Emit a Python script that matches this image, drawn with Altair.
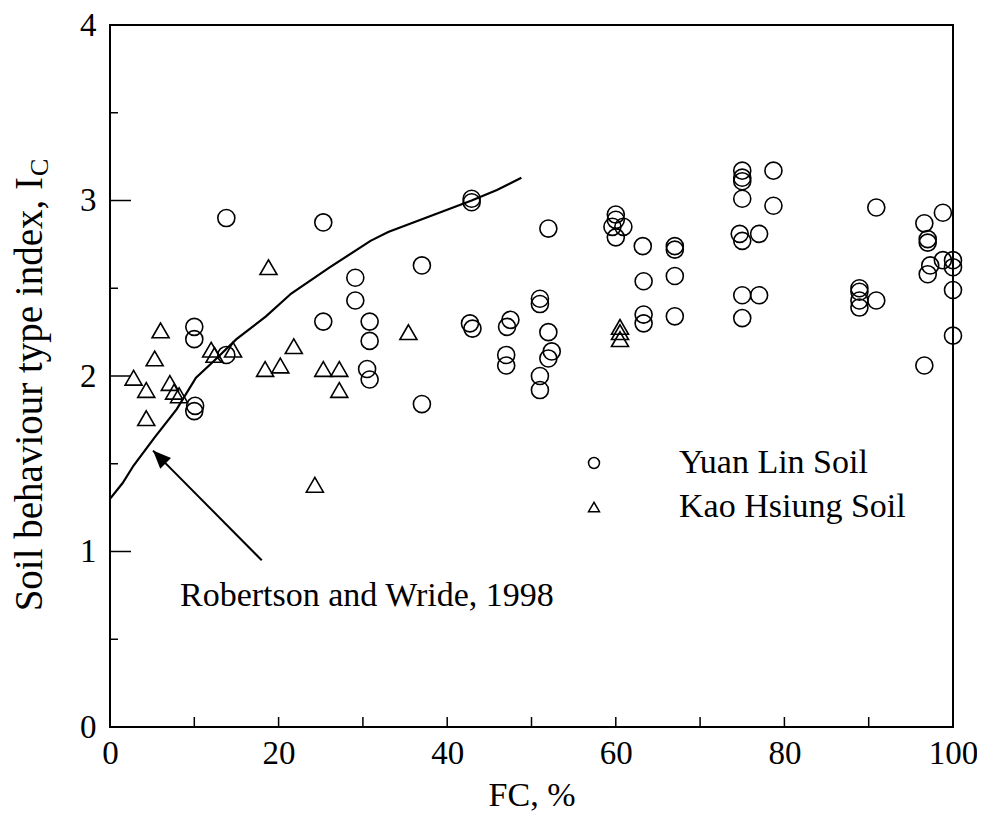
import altair as alt
import pandas as pd

# ---------------- data ----------------
# Yuan Lin Soil (open circles)
yl_fc = [10.0, 10.0, 10.1, 10.0, 13.8, 13.8, 25.3, 25.3, 29.1, 29.1,
         30.8, 30.8, 30.5, 30.8, 37.0, 37.0, 42.9, 42.9, 42.7, 43.0,
         47.1, 47.5, 47.0, 47.0, 51.0, 51.0, 51.0, 51.0, 52.0, 52.0,
         52.4, 52.0, 60.0, 60.0, 59.6, 60.9, 60.0, 63.2, 63.3, 63.3,
         63.3, 67.0, 67.0, 67.0, 67.0, 75.0, 75.0, 75.0, 75.0, 74.7,
         75.0, 75.0, 75.0, 77.0, 77.0, 78.7, 78.7, 88.9, 88.9, 88.9,
         88.9, 90.9, 90.9, 96.6, 96.6, 97.0, 97.0, 97.3, 97.0, 98.8,
         98.8, 100.0, 100.0, 100.0, 100.0]
yl_ic = [2.28, 2.21, 1.83, 1.80, 2.90, 2.12, 2.875, 2.31, 2.56, 2.43,
         2.31, 2.20, 2.04, 1.98, 2.63, 1.84, 3.01, 2.99, 2.30, 2.27,
         2.28, 2.32, 2.12, 2.06, 2.44, 2.41, 2.00, 1.92, 2.84, 2.25,
         2.14, 2.10, 2.92, 2.89, 2.85, 2.85, 2.79, 2.74, 2.54, 2.35,
         2.30, 2.74, 2.72, 2.57, 2.34, 3.17, 3.13, 3.11, 3.01, 2.81,
         2.77, 2.46, 2.33, 2.81, 2.46, 3.17, 2.97, 2.50, 2.48, 2.43,
         2.39, 2.43, 2.96, 2.87, 2.06, 2.78, 2.76, 2.63, 2.58, 2.93,
         2.66, 2.66, 2.62, 2.49, 2.23]

# Kao Hsiung Soil (open triangles)
kh_fc = [2.8, 4.3, 4.3, 5.3, 6.0, 7.1, 7.6, 8.2, 12.0, 12.4, 14.6, 18.4,
         18.8, 20.2, 21.8, 24.3, 25.3, 27.2, 27.2, 35.4, 60.5, 60.5, 60.5]
kh_ic = [1.99, 1.92, 1.76, 2.10, 2.26, 1.96, 1.91, 1.89, 2.15, 2.12, 2.15, 2.04,
         2.62, 2.06, 2.17, 1.38, 2.04, 2.04, 1.92, 2.25, 2.28, 2.25, 2.21]

# Robertson and Wride (1998) curve
rw_fc = [0.0, 1.5, 2.8, 5.3, 7.9, 10.2, 12.2, 15.0, 18.5, 21.5, 26.1,
         30.9, 33.0, 39.6, 42.9, 45.9, 48.8]
rw_ic = [1.30, 1.39, 1.49, 1.65, 1.81, 1.99, 2.08, 2.21, 2.34, 2.47, 2.62,
         2.77, 2.82, 2.94, 3.00, 3.06, 3.13]

series_names = ["Yuan Lin Soil", "Kao Hsiung Soil"]
series_shapes = ["circle", "triangle-up"]

# annotation
note_text = "Robertson and Wride, 1998"
note_fc, note_ic = [8.3], [0.69]
arrow_tail_fc, arrow_tail_ic = [18.0], [0.95]
arrow_tip_fc, arrow_tip_ic = [5.1], [1.575]

x_tick_labels = [0, 20, 40, 60, 80, 100]
x_ticks = [0, 10, 20, 30, 40, 50, 60, 70, 80, 90, 100]
y_tick_labels = [0, 1, 2, 3, 4]
y_minor = [0.5, 1.5, 2.5, 3.5]

# ---------------- chart ----------------
W, H = 843, 702
FONT = "Liberation Serif"

pts = pd.DataFrame({
    "FC": yl_fc + kh_fc,
    "IC": yl_ic + kh_ic,
    "Soil": [series_names[0]] * len(yl_fc) + [series_names[1]] * len(kh_fc),
})

xs = alt.Scale(domain=[0, 100], nice=False, zero=False)
ys = alt.Scale(domain=[0, 4], nice=False, zero=False)
x_axis = alt.Axis(
    values=x_tick_labels, ticks=False, domain=False, grid=False,
    labelFont=FONT, labelFontSize=33, labelColor="black", labelPadding=10,
    labelFlush=False, title="FC, %", titleFont=FONT, titleFontSize=34,
    titleFontWeight="normal", titleColor="black", titlePadding=8)
y_axis = alt.Axis(
    values=y_tick_labels, ticks=False, domain=False, grid=False,
    labelFont=FONT, labelFontSize=33, labelColor="black", labelPadding=14,
    labelFlush=False, title=None)


def X(f="FC:Q"):
    return alt.X(f, scale=xs, axis=x_axis)


def Y(f="IC:Q"):
    return alt.Y(f, scale=ys, axis=y_axis)


points = alt.Chart(pts).mark_point(filled=False, color="black", strokeWidth=1.6,
                                   opacity=1, size=290).encode(
    x=X(), y=Y(),
    shape=alt.Shape("Soil:N", scale=alt.Scale(domain=series_names, range=series_shapes),
                    legend=alt.Legend(title=None, orient="none", legendX=467, legendY=421,
                                      labelFont=FONT, labelFontSize=34, labelColor="black",
                                      labelLimit=0,
                                      symbolSize=120, symbolStrokeWidth=1.5,
                                      symbolStrokeColor="black", symbolFillColor="white",
                                      labelOffset=68, rowPadding=10, padding=0)),
)

curve = alt.Chart(pd.DataFrame({"FC": rw_fc, "IC": rw_ic})).mark_line(
    color="black", strokeWidth=2.2).encode(x=X(), y=Y(), order="FC:Q")

arrow_df = pd.DataFrame({"FC": arrow_tail_fc, "IC": arrow_tail_ic,
                         "FC2": arrow_tip_fc, "IC2": arrow_tip_ic})
arrow_line = alt.Chart(arrow_df).mark_rule(color="black", strokeWidth=2).encode(
    x=X(), y=Y(), x2="FC2:Q", y2="IC2:Q")
arrow_head = alt.Chart(pd.DataFrame({"FC": arrow_tip_fc, "IC": arrow_tip_ic})).mark_point(
    shape="M0,0L0.42,1L-0.42,1Z", filled=True, color="black", opacity=1,
    size=1296, angle=315.4, strokeWidth=0).encode(x=X(), y=Y())

note = alt.Chart(pd.DataFrame({"FC": note_fc, "IC": note_ic, "t": [note_text]})).mark_text(
    align="left", baseline="alphabetic", font=FONT, fontSize=34, color="black").encode(
    x=X(), y=Y(), text="t:N")

# inward ticks
xt = alt.Chart(pd.DataFrame({"FC": x_ticks})).mark_rule(color="black", strokeWidth=1.5).encode(
    x=X(), y=alt.value(H), y2=alt.value(H - 10))
yt_major = alt.Chart(pd.DataFrame({"IC": y_tick_labels})).mark_rule(color="black", strokeWidth=1.5).encode(
    y=Y(), x=alt.value(0), x2=alt.value(21))
yt_minor = alt.Chart(pd.DataFrame({"IC": y_minor})).mark_rule(color="black", strokeWidth=1.5).encode(
    y=Y(), x=alt.value(0), x2=alt.value(8))

# y-axis title with subscript C
one = pd.DataFrame({"a": [0]})
ytitle = alt.Chart(one).mark_text(
    text="Soil behaviour type index, I", angle=270, align="right", baseline="middle",
    font=FONT, fontSize=39, color="black").encode(x=alt.value(-80), y=alt.value(152))
ysub = alt.Chart(one).mark_text(
    text="C", angle=270, align="left", baseline="middle",
    font=FONT, fontSize=26, color="black").encode(x=alt.value(-70), y=alt.value(151))

chart = alt.layer(points, curve, arrow_line, arrow_head, note, xt, yt_major, yt_minor,
                  ytitle, ysub).properties(
    width=W, height=H,
    background="white",
    autosize=alt.AutoSizeParams(type="none"),
    padding={"left": 102, "top": 17, "right": 24, "bottom": 86},
).configure_view(stroke="black", strokeWidth=2)

chart.save("out.html", embed_options={"renderer": "svg", "actions": False})
